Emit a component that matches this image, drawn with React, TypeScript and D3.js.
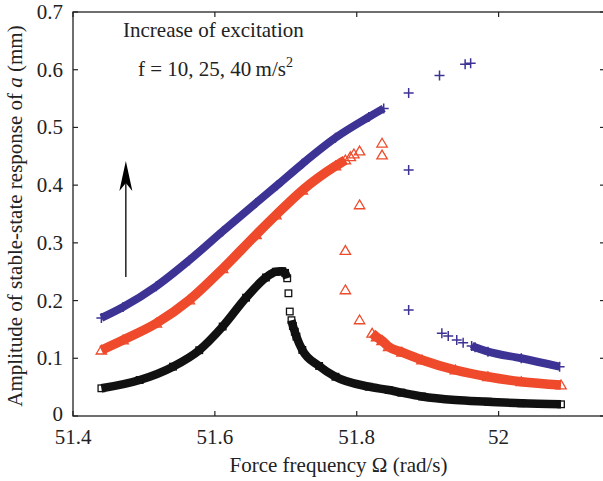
import React from "react";
import * as d3 from "d3";

// ---- axis ticks ----
const xTicks = [51.4, 51.6, 51.8, 52];
const xTickLabels = ["51.4", "51.6", "51.8", "52"];
const yTicks = [0, 0.1, 0.2, 0.3, 0.4, 0.5, 0.6, 0.7];
const yTickLabels = ["0", "0.1", "0.2", "0.3", "0.4", "0.5", "0.6", "0.7"];

// ---- f = 10 m/s^2 (black squares) ----
const blackUpperFreq = [51.44, 51.494, 51.541, 51.578, 51.611, 51.644, 51.672, 51.686, 51.695, 51.699, 51.702];
const blackUpperAmp = [0.048, 0.0624, 0.0855, 0.114, 0.155, 0.205, 0.24, 0.25, 0.251, 0.248, 0.2386];
const blackJumpFreq = [51.7037, 51.7056];
const blackJumpAmp = [0.2126, 0.181];
const blackLowerFreq = [51.708, 51.71, 51.7127, 51.715, 51.7233, 51.747, 51.77, 51.817, 51.845, 51.863, 51.892, 51.939, 51.985, 52.032, 52.088];
const blackLowerAmp = [0.166, 0.156, 0.146, 0.1375, 0.1144, 0.0867, 0.068, 0.0508, 0.045, 0.0405, 0.0338, 0.0277, 0.0248, 0.022, 0.0203];

// ---- f = 25 m/s^2 (orange triangles) ----
const orangeUpperFreq = [51.44, 51.4706, 51.5175, 51.564, 51.611, 51.658, 51.686, 51.7233, 51.77, 51.784];
const orangeUpperAmp = [0.114, 0.1317, 0.1607, 0.201, 0.255, 0.314, 0.348, 0.391, 0.433, 0.4435];
const orangeJumpFreq = [51.791, 51.796, 51.804, 51.8357, 51.8357, 51.804, 51.784, 51.784, 51.804];
const orangeJumpAmp = [0.449, 0.454, 0.459, 0.4726, 0.452, 0.3657, 0.2865, 0.2184, 0.1664];
const orangeLowerFreq = [51.8217, 51.828, 51.8357, 51.845, 51.8637, 51.892, 51.939, 51.985, 52.032, 52.088];
const orangeLowerAmp = [0.1433, 0.137, 0.1305, 0.12, 0.1105, 0.097, 0.0797, 0.068, 0.0594, 0.0537];

// ---- f = 40 m/s^2 (blue pluses) ----
const blueUpperFreq = [51.44, 51.4706, 51.5175, 51.564, 51.611, 51.658, 51.688, 51.7233, 51.77, 51.817, 51.838];
const blueUpperAmp = [0.17, 0.189, 0.225, 0.27, 0.32, 0.369, 0.4, 0.437, 0.482, 0.518, 0.533];
const blueJumpFreq = [51.8732, 51.9167, 51.9528, 51.9606, 51.8732, 51.8732, 51.92, 51.929, 51.941, 51.95];
const blueJumpAmp = [0.5598, 0.59, 0.6095, 0.611, 0.4263, 0.1837, 0.1433, 0.1386, 0.1317, 0.127];
const blueLowerFreq = [51.962, 51.9668, 51.985, 52.032, 52.086];
const blueLowerAmp = [0.1213, 0.119, 0.1114, 0.1, 0.0855];

// annotation arrow (data coords)
const arrowFreq = 51.4745;
const arrowFrom = 0.241;
const arrowTo = 0.442;

const W = 603;
const H = 481;
const M = { left: 73, right: 605, top: 12, bottom: 416 };
const FONT = "'Liberation Serif', 'Times New Roman', serif";

const BLACK = "#111111";
const ORANGE = "#ee4a2b";
const BLUE = "#3d3394";

type Pt = [number, number];
const zip = (a: number[], b: number[]): Pt[] => a.map((v, i) => [v, b[i]]);

export default function App() {
  const x = d3.scaleLinear().domain([51.4, 52.15]).range([M.left, M.right]);
  const y = d3.scaleLinear().domain([0, 0.7]).range([M.bottom, M.top]);
  const line = d3
    .line<Pt>()
    .x((d) => x(d[0]))
    .y((d) => y(d[1]))
    .curve(d3.curveMonotoneX);

  const square = (p: Pt, k: string) => (
    <rect key={k} x={x(p[0]) - 3.3} y={y(p[1]) - 3.3} width={6.6} height={6.6} fill="none" stroke={BLACK} strokeWidth={1.3} />
  );
  const tri = (p: Pt, k: string) => {
    const cx = x(p[0]);
    const cy = y(p[1]);
    return (
      <path key={k} d={`M${cx},${cy - 5}L${cx + 5.2},${cy + 3.8}L${cx - 5.2},${cy + 3.8}Z`} fill="none" stroke={ORANGE} strokeWidth={1.3} />
    );
  };
  const plus = (p: Pt, k: string) => {
    const cx = x(p[0]);
    const cy = y(p[1]);
    return (
      <path key={k} d={`M${cx - 5},${cy}H${cx + 5}M${cx},${cy - 5}V${cy + 5}`} fill="none" stroke={BLUE} strokeWidth={1.5} />
    );
  };

  const series = [
    { color: BLACK, w: 8.5, marker: square, up: zip(blackUpperFreq, blackUpperAmp), jump: zip(blackJumpFreq, blackJumpAmp), low: zip(blackLowerFreq, blackLowerAmp), name: "b" },
    { color: ORANGE, w: 9.5, marker: tri, up: zip(orangeUpperFreq, orangeUpperAmp), jump: zip(orangeJumpFreq, orangeJumpAmp), low: zip(orangeLowerFreq, orangeLowerAmp), name: "o" },
    { color: BLUE, w: 8, marker: plus, up: zip(blueUpperFreq, blueUpperAmp), jump: zip(blueJumpFreq, blueJumpAmp), low: zip(blueLowerFreq, blueLowerAmp), name: "u" },
  ];

  const ax = x(arrowFreq);
  const a0 = y(arrowFrom);
  const a1 = y(arrowTo);

  return (
    <svg width={W} height={H} style={{ position: "fixed", left: 0, top: 0, background: "#fff" }} fontFamily={FONT}>
      <rect x={0} y={0} width={W} height={H} fill="#fff" />
      {/* data */}
      {series.map((s) => (
        <g key={s.name}>
          <path d={line(s.up) || ""} fill="none" stroke={s.color} strokeWidth={s.w} />
          <path d={line(s.low) || ""} fill="none" stroke={s.color} strokeWidth={s.w} />
          {s.up.map((p, i) => s.marker(p, s.name + "u" + i))}
          {s.jump.map((p, i) => s.marker(p, s.name + "j" + i))}
          {s.low.map((p, i) => s.marker(p, s.name + "l" + i))}
        </g>
      ))}

      {/* frame */}
      <rect x={M.left} y={M.top} width={M.right - M.left} height={M.bottom - M.top} fill="none" stroke="#222" strokeWidth={1.3} />
      {xTicks.map((t, i) => (
        <g key={"xt" + i}>
          <line x1={x(t)} x2={x(t)} y1={M.bottom} y2={M.bottom - 5} stroke="#222" strokeWidth={1.2} />
          <line x1={x(t)} x2={x(t)} y1={M.top} y2={M.top + 5} stroke="#222" strokeWidth={1.2} />
          <text x={x(t)} y={444} fontSize={21} textAnchor="middle" fill="#222">{xTickLabels[i]}</text>
        </g>
      ))}
      {yTicks.map((t, i) => (
        <g key={"yt" + i}>
          <line x1={M.left} x2={M.left + 5} y1={y(t)} y2={y(t)} stroke="#222" strokeWidth={1.2} />
          <line x1={M.right} x2={M.right - 5} y1={y(t)} y2={y(t)} stroke="#222" strokeWidth={1.2} />
          <text x={63} y={y(t) + (t === 0 ? 5 : 7)} fontSize={21} textAnchor="end" fill="#222">{yTickLabels[i]}</text>
        </g>
      ))}

      {/* axis titles */}
      <text x={338.5} y={472} fontSize={21} textAnchor="middle" fill="#222">Force frequency Ω (rad/s)</text>
      <text transform="translate(22,216) rotate(-90)" fontSize={21} textAnchor="middle" fill="#222">
        Amplitude of stable-state response of <tspan fontStyle="italic">a</tspan> (mm)
      </text>

      {/* annotations */}
      <text x={123} y={37} fontSize={21} fill="#222">Increase of excitation</text>
      <text x={138} y={76} fontSize={21} fill="#222">
        f = 10, 25, 40{"\u2009"}m/s<tspan fontSize={14} dy={-9}>2</tspan>
      </text>
      <line x1={ax} x2={ax} y1={a0} y2={a1 + 20} stroke="#000" strokeWidth={1.3} />
      <path d={`M${ax},${a1}L${ax + 6.5},${a1 + 30}L${ax},${a1 + 22}L${ax - 6.5},${a1 + 30}Z`} fill="#000" />
    </svg>
  );
}
